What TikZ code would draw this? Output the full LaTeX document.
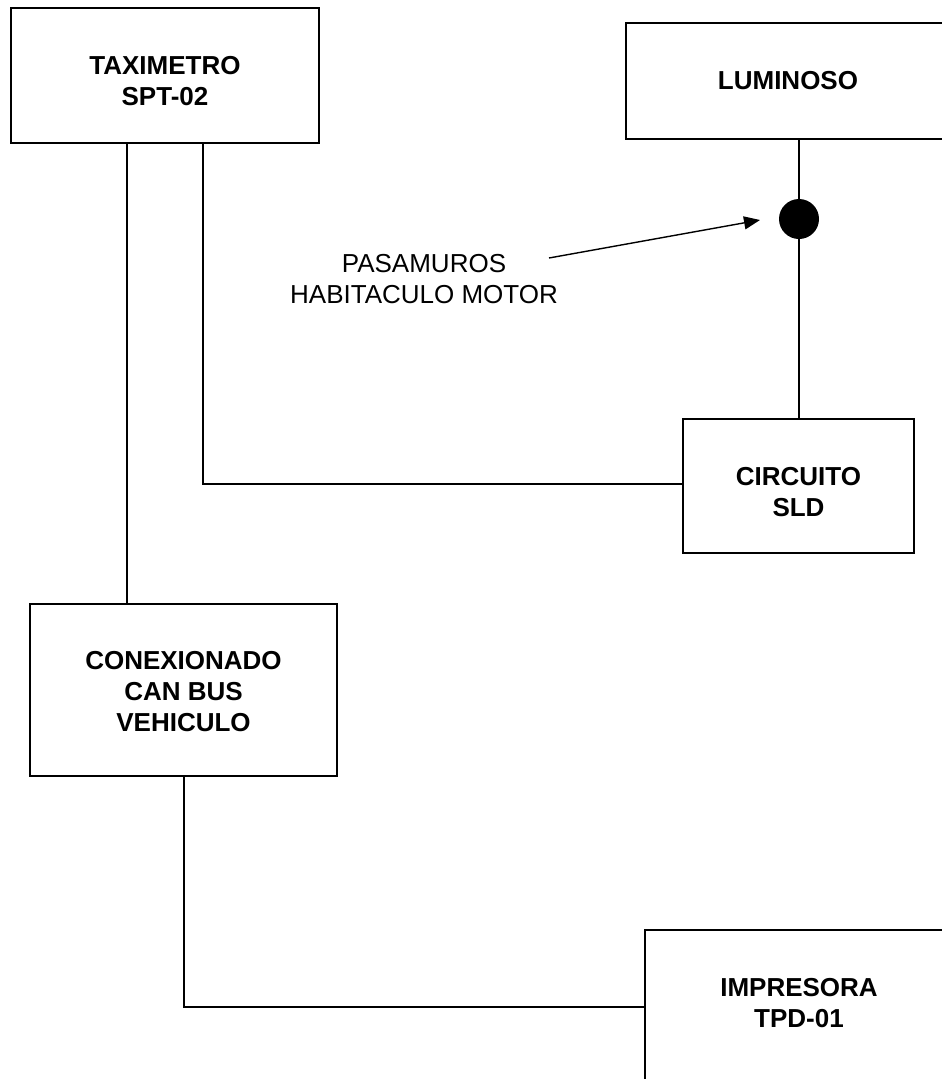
\documentclass[tikz,border=0pt]{standalone}
\usepackage{fontspec}
\setmainfont{Liberation Sans}
\usetikzlibrary{arrows.meta}
\begin{document}
\begin{tikzpicture}[x=1pt,y=-1pt,
  box/.style={draw,line width=1.5pt,inner sep=0pt},
  lbl/.style={font=\fontsize{26}{31}\selectfont\bfseries,align=center,inner sep=0pt},
  plain/.style={font=\fontsize{26}{31}\selectfont,align=center,inner sep=0pt},
  wire/.style={line width=1.4pt}]
\useasboundingbox (0,0) rectangle (942,1079);
\clip (0,0) rectangle (942,1079);
% boxes
\node[box,minimum width=308pt,minimum height=135pt] (tax) at (165,75.5) {};
\node[box,minimum width=324pt,minimum height=116pt] (lum) at (788,81) {};
\node[box,minimum width=231pt,minimum height=134pt] (circ) at (798.5,486) {};
\node[box,minimum width=307pt,minimum height=172pt] (conex) at (183.5,690) {};
\node[box,minimum width=308pt,minimum height=154pt] (imp) at (799,1007) {};
% texts
\node[lbl] (taxT) at (165,81.5) {TAXIMETRO\\SPT-02};
\node[lbl] (lumT) at (788,81) {LUMINOSO};
\node[lbl] (circT) at (798.5,492) {CIRCUITO\\SLD};
\node[lbl] (conexT) at (183.5,692) {CONEXIONADO\\CAN BUS\\VEHICULO};
\node[lbl] (impT) at (799,1003) {IMPRESORA\\TPD-01};
\node[plain] (pas) at (424,279.5) {PASAMUROS\\HABITACULO MOTOR};
% feedthrough dot
\node[circle,fill=black,minimum size=40pt,inner sep=0pt] (dot) at (799,219) {};
% connectors
\draw[wire] ([xshift=-38pt]tax.south) -- ([xshift=-56.5pt]conex.north);
\draw[wire] ([xshift=38pt]tax.south) |- ([yshift=2pt]circ.west);
\draw[wire] (dot.north |- lum.south) -- (dot.north);
\draw[wire] (dot.south) -- (dot.south |- circ.north);
\draw[wire] ([xshift=0.5pt]conex.south) |- (imp.west);
\coordinate (as) at (549,258);
\coordinate (ae) at (760,220);
\draw[wire,-{Triangle[length=16pt,width=13pt]}] (as) -- (ae);
\end{tikzpicture}
\end{document}
